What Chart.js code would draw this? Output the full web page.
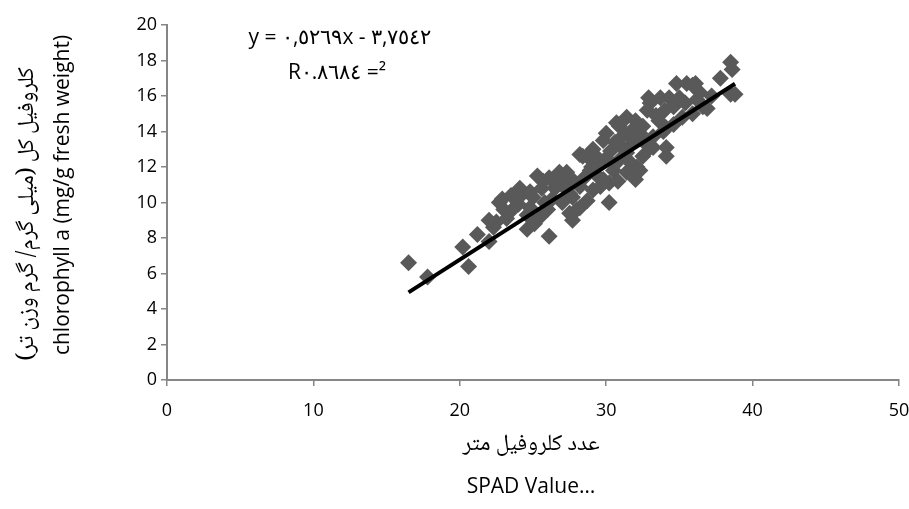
<!DOCTYPE html>
<html>
<head>
<meta charset="utf-8">
<script src="https://cdn.jsdelivr.net/npm/chart.js@4.4.1/dist/chart.umd.min.js"></script>
<style>
  html, body { margin: 0; padding: 0; background: #fff; }
  #c { display: block; }
</style>
</head>
<body>
<canvas id="c" width="909" height="509"></canvas>
<script>
// SPAD readings (x) and total chlorophyll (y)
const spad = [
  16.5, 17.8, 20.2, 20.6, 21.2, 22.0, 22.5, 22.7, 22.3, 22.0,
  22.9, 23.2, 23.6, 24.1, 24.3, 24.6, 24.8, 24.8, 24.6, 25.1,
  25.3, 25.5, 25.7, 26.1, 26.1, 26.3, 26.8, 27.0, 27.3, 27.5,
  27.5, 27.7, 27.7, 28.0, 28.2, 28.2, 28.2, 28.4, 28.7, 28.7,
  29.1, 29.1, 29.6, 29.8, 29.8, 30.0, 30.2, 30.2, 30.5, 30.7,
  30.9, 30.9, 31.4, 31.4, 31.4, 31.4, 31.8, 32.1, 32.3, 32.3,
  32.5, 32.5, 32.8, 32.9, 33.0, 33.0, 33.2, 33.2, 33.6, 33.9,
  34.1, 34.1, 34.1, 34.3, 34.6, 34.8, 35.0, 35.2, 35.5, 35.9,
  35.9, 36.1, 36.4, 36.6, 36.9, 37.8, 38.5, 38.6, 38.5, 38.8,
  26.5, 29.5, 30.0, 31.0, 27.0, 25.8, 23.8, 28.9, 31.9, 32.0,
  23.0, 23.5, 24.0, 25.0, 25.6, 26.0, 26.6, 27.2, 27.8, 28.5,
  29.0, 29.4, 30.3, 30.6, 31.2, 31.6, 32.0, 32.6, 33.4, 34.0,
  34.6, 35.4, 36.2, 37.2, 29.3, 30.8, 33.7
];
const chl = [
  6.6, 5.8, 7.5, 6.4, 8.2, 7.8, 8.9, 10.0, 8.6, 9.0,
  10.2, 9.1, 9.6, 10.8, 10.5, 9.3, 10.6, 9.7, 8.5, 8.8,
  11.5, 9.2, 11.2, 11.4, 8.1, 10.2, 11.7, 11.3, 11.7, 10.5,
  9.4, 10.3, 9.0, 9.6, 9.7, 10.9, 12.7, 12.6, 10.1, 12.6,
  13.0, 10.7, 10.9, 13.5, 11.3, 13.9, 11.1, 10.0, 11.8, 14.5,
  14.3, 12.4, 14.8, 12.8, 11.7, 13.0, 14.1, 12.0, 13.9, 11.8,
  12.6, 14.3, 15.2, 15.9, 13.1, 15.6, 13.7, 13.1, 14.6, 14.0,
  14.2, 13.1, 12.6, 15.9, 15.4, 16.7, 15.9, 14.8, 16.7, 15.0,
  16.6, 16.7, 16.2, 15.4, 15.3, 17.0, 17.9, 17.5, 16.1, 16.1,
  10.8, 12.2, 12.5, 13.2, 10.0, 10.0, 10.2, 11.8, 13.5, 11.3,
  9.6, 10.4, 9.9, 10.3, 10.8, 9.6, 11.0, 10.8, 11.2, 11.4,
  12.0, 11.5, 12.9, 13.4, 13.8, 12.3, 14.6, 13.4, 14.9, 15.2,
  14.4, 15.6, 15.8, 16.0, 12.6, 11.2, 15.9
];

// trendline as printed on the chart
const slope = 0.5269;
const intercept = -3.7542;
const eqText = "y = \u0660,\u0665\u0662\u0666\u0669x - \u0663,\u0667\u0665\u0664\u0662";
const r2Text = "R\u0660.\u0668\u0666\u0668\u0664 =\u00b2";

const yTitleFa = "کلروفیل کل (میلی گرم/ گرم وزن تر)";
const yTitleEn = "chlorophyll a (mg/g fresh weight)";
const xTitleFa = "عدد کلروفیل متر";
const xTitleEn = "SPAD Value…";

const AXIS = "#868686";
const LATIN = "'Open Sans', Lato, sans-serif";
const ARABIC = "'Noto Naskh Arabic', 'DejaVu Serif', serif";

const points = spad.map((x, i) => ({ x: x, y: chl[i] }));
const xMin = Math.min(...spad), xMax = Math.max(...spad);
const trend = [xMin, xMax].map(x => ({ x: x, y: intercept + slope * x }));

const titles = {
  id: "titles",
  afterDraw(chart) {
    const ctx = chart.ctx;
    ctx.save();
    ctx.fillStyle = "#000";
    ctx.textBaseline = "middle";
    ctx.textAlign = "center";

    // regression text
    ctx.direction = "ltr";
    ctx.font = "21px " + LATIN;
    ctx.fillText("\u202D" + eqText + "\u202C", 340, 38);
    ctx.fillText("\u202D" + r2Text + "\u202C", 337, 73);

    // x titles
    ctx.direction = "rtl";
    ctx.font = "23px " + ARABIC;
    ctx.fillText(xTitleFa, 531, 447);
    ctx.direction = "ltr";
    ctx.font = "21px " + LATIN;
    ctx.fillText(xTitleEn, 531, 487);

    // y titles (rotated)
    ctx.save();
    ctx.translate(30, 214);
    ctx.rotate(-Math.PI / 2);
    ctx.direction = "rtl";
    ctx.font = "23px " + ARABIC;
    ctx.fillText(yTitleFa, 0, 0);
    ctx.restore();

    ctx.save();
    ctx.translate(63, 195);
    ctx.rotate(-Math.PI / 2);
    ctx.direction = "ltr";
    ctx.font = "21px " + LATIN;
    ctx.fillText(yTitleEn, 0, 0);
    ctx.restore();

    ctx.restore();
  }
};

new Chart(document.getElementById("c"), {
  data: {
    datasets: [
      {
        type: "line",
        data: trend,
        borderColor: "#000",
        borderWidth: 4,
        pointRadius: 0,
        fill: false,
        order: 0
      },
      {
        type: "scatter",
        data: points,
        pointStyle: "rectRot",
        pointRadius: 8.5,
        pointBorderWidth: 0,
        backgroundColor: "#595959",
        borderColor: "#595959",
        order: 1
      }
    ]
  },
  options: {
    responsive: false,
    devicePixelRatio: 1,
    animation: false,
    layout: { padding: { left: 0, top: 25, right: 10, bottom: 0 } },
    plugins: { legend: { display: false }, tooltip: { enabled: false } },
    scales: {
      x: {
        type: "linear",
        min: 0, max: 50,
        ticks: { stepSize: 10, color: "#000", padding: 14, font: { family: LATIN, size: 18 } },
        grid: { drawOnChartArea: false, drawTicks: true, tickLength: 6, color: AXIS, lineWidth: 1.5 },
        border: { color: AXIS, width: 2 },
        afterFit(s) { s.height = 129; s.paddingLeft = 0; s.paddingRight = 0; }
      },
      y: {
        type: "linear",
        min: 0, max: 20,
        ticks: { stepSize: 2, color: "#000", padding: 4, font: { family: LATIN, size: 18 } },
        grid: { drawOnChartArea: false, drawTicks: true, tickLength: 6, color: AXIS, lineWidth: 1.5 },
        border: { color: AXIS, width: 2 },
        afterFit(s) { s.width = 167; s.paddingTop = 0; s.paddingBottom = 0; }
      }
    }
  },
  plugins: [titles]
});
</script>
</body>
</html>
